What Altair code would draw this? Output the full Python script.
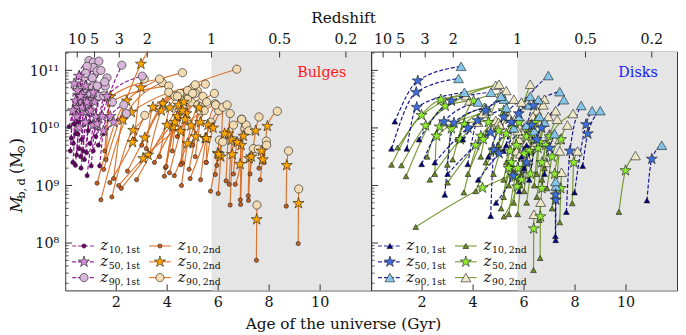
import altair as alt
import pandas as pd

FONT = "DejaVu Serif"
W, H = 310, 242
X_DOMAIN = [0, 12]
Y_DOMAIN = [10 ** 7.177, 10 ** 11.326]
AGE_TICKS = [2, 4, 6, 8, 10]
Z_AGES = [0.47, 1.15, 2.12, 3.22, 5.74, 8.41, 11.01]
Z_LABELS = ["10", "5", "3", "2", "1", "0.5", "0.2"]
Z1_AGE = 5.74
MASS_MAJOR = [1e8, 1e9, 1e10, 1e11]
MASS_LABELS = ["10\u2078", "10\u2079", "10\u00b9\u2070", "10\u00b9\u00b9"]

# five-pointed star marker (unit box)
STAR = ("M0,-1L0.2245,-0.309L0.9511,-0.309L0.3633,0.118L0.5878,0.809L0,0.382"
        "L-0.5878,0.809L-0.3633,0.118L-0.9511,-0.309L-0.2245,-0.309Z")

# ---- Bulges, 1st generation (age in Gyr, log10 mass) ----
b1_a10 = [0.86, 1.02, 1.35, 0.24, 0.41, 0.54, 0.45, 0.61, 0.84, 0.97, 0.32, 0.15, 0.35, 0.48, 0.70, 0.30, 0.62, 0.75, 1.10, 1.20, 0.50, 0.90, 0.20, 1.30, 0.95, 0.40, 0.65, 1.50]
b1_m10 = [9.17, 9.34, 9.34, 9.82, 9.90, 9.64, 9.53, 9.50, 9.57, 9.73, 9.73, 10.02, 10.07, 9.90, 9.60, 9.40, 9.30, 9.45, 9.60, 9.85, 10.10, 9.95, 9.60, 9.70, 10.10, 9.35, 9.80, 9.90]
b1_a50 = [1.10, 1.20, 1.50, 0.35, 0.54, 0.67, 0.62, 0.80, 0.93, 1.25, 0.48, 0.41, 0.48, 0.67, 0.90, 0.45, 0.80, 1.00, 1.45, 1.64, 0.60, 1.10, 0.30, 1.77, 1.15, 0.55, 0.85, 1.90]
b1_m50 = [10.05, 10.20, 9.95, 10.77, 10.90, 10.59, 10.45, 10.73, 10.27, 10.07, 10.65, 10.47, 10.36, 10.36, 10.40, 10.20, 10.10, 10.30, 10.20, 10.55, 10.55, 10.62, 10.30, 10.20, 10.45, 10.00, 10.45, 10.10]
b1_a90 = [1.32, 1.57, 1.85, 0.93, 1.10, 1.32, 1.10, 1.25, 1.06, 1.51, 0.73, 0.86, 0.73, 1.06, 1.64, 0.75, 1.00, 1.25, 2.22, 3.02, 0.80, 1.40, 0.55, 2.30, 1.55, 0.85, 1.00, 2.40]
b1_m90 = [10.55, 10.73, 10.45, 11.17, 11.14, 11.16, 11.05, 10.99, 10.87, 10.56, 10.87, 11.07, 10.53, 10.73, 10.87, 10.60, 10.45, 10.73, 11.09, 10.90, 10.95, 11.00, 10.65, 10.40, 10.80, 10.30, 10.60, 10.25]

# ---- Bulges, 2nd generation ----
b2_a10 = [1.25, 1.51, 1.40, 1.83, 1.90, 1.60, 1.55, 2.44, 2.20, 1.75, 2.10, 3.18, 3.00, 3.30, 2.70, 3.93, 4.09, 4.28, 4.56, 4.86, 4.90, 5.31, 3.96, 4.60, 3.89, 4.54, 5.53, 3.70, 4.20, 3.50, 5.10, 2.80, 5.89, 6.00, 4.40, 6.31, 6.43, 6.47, 6.67, 6.87, 6.88, 7.18, 7.19, 7.50, 8.67, 9.14, 7.25, 7.80, 7.60, 7.65, 5.95, 5.70, 6.60, 5.53, 5.00]
b2_m10 = [9.04, 9.28, 8.75, 8.80, 9.12, 9.45, 9.60, 9.25, 8.95, 9.05, 9.00, 9.64, 9.70, 9.55, 9.80, 9.31, 9.22, 9.17, 9.00, 9.28, 9.12, 9.10, 9.33, 9.39, 9.16, 9.36, 9.40, 9.50, 9.60, 9.40, 9.50, 9.10, 9.19, 8.86, 9.85, 9.08, 9.02, 8.66, 9.02, 8.75, 8.67, 8.82, 8.74, 7.70, 8.64, 7.99, 9.20, 9.40, 9.30, 9.10, 9.35, 8.90, 9.20, 9.40, 9.70]
b2_a50 = [2.41, 2.97, 2.60, 2.67, 2.26, 1.77, 1.77, 3.12, 3.25, 2.64, 3.06, 3.44, 3.83, 3.77, 2.97, 4.22, 4.53, 4.80, 4.93, 5.12, 5.49, 5.53, 4.40, 4.75, 4.30, 4.70, 5.60, 4.10, 4.45, 4.60, 5.30, 4.00, 5.98, 6.10, 4.65, 6.40, 6.53, 6.55, 6.86, 6.90, 6.99, 7.22, 7.30, 7.51, 8.69, 9.15, 7.47, 7.93, 7.70, 7.75, 6.25, 6.02, 6.75, 5.80, 5.25]
b2_m50 = [10.47, 11.11, 10.27, 9.96, 10.14, 10.54, 10.45, 9.83, 9.53, 9.75, 9.47, 10.36, 10.42, 10.30, 10.70, 10.02, 9.94, 9.73, 10.04, 9.85, 9.82, 9.82, 10.20, 10.25, 10.10, 10.15, 10.05, 10.35, 10.40, 10.30, 10.10, 10.05, 9.56, 9.50, 10.45, 9.90, 9.79, 9.54, 9.37, 9.70, 9.86, 9.47, 9.50, 8.41, 9.35, 8.69, 9.95, 10.03, 9.60, 9.45, 9.90, 9.54, 9.75, 10.00, 10.35]
b2_a90 = [4.60, 3.40, 5.50, 6.73, 3.80, 3.70, 4.06, 4.06, 5.18, 3.12, 5.88, 4.50, 5.00, 4.30, 3.10, 4.70, 4.95, 5.30, 5.20, 5.45, 5.70, 6.02, 4.80, 5.10, 4.60, 5.40, 5.90, 4.40, 4.80, 5.00, 5.55, 4.40, 6.05, 6.18, 5.10, 6.47, 6.60, 6.62, 6.92, 7.05, 7.10, 7.38, 7.57, 7.52, 8.76, 9.16, 7.60, 8.32, 7.89, 7.90, 6.92, 6.18, 7.20, 6.35, 5.85]
b2_m90 = [10.96, 11.45, 10.76, 11.02, 10.79, 10.85, 10.73, 10.62, 10.65, 10.22, 10.42, 10.60, 10.70, 10.55, 10.85, 10.50, 10.45, 10.30, 10.40, 10.30, 10.10, 10.30, 10.50, 10.60, 10.40, 10.55, 10.40, 10.55, 10.65, 10.60, 10.45, 10.35, 9.79, 10.36, 10.75, 10.25, 10.05, 9.78, 10.15, 9.99, 10.05, 9.64, 9.63, 8.66, 9.60, 8.94, 10.19, 10.29, 9.77, 9.70, 10.15, 9.76, 9.95, 10.40, 10.60]

# ---- Disks, 1st generation ----
d1_a10 = [0.93, 0.80, 1.40, 1.88, 1.98, 2.89, 3.79, 4.69, 3.00, 4.20, 4.60, 5.20, 4.90, 5.90, 6.00, 7.24, 7.23, 7.66, 7.98, 8.30, 10.82, 5.30, 3.60, 6.20, 6.10, 5.80, 2.50, 6.80]
d1_m10 = [10.11, 9.64, 9.64, 9.80, 9.37, 8.84, 9.37, 8.47, 9.20, 9.10, 9.50, 9.60, 8.70, 9.50, 9.30, 8.05, 8.12, 8.54, 8.88, 9.34, 8.74, 9.70, 9.80, 9.10, 9.70, 8.90, 9.40, 9.20]
d1_a50 = [1.83, 1.77, 1.79, 3.15, 2.86, 3.25, 4.18, 4.82, 4.69, 5.02, 5.21, 5.79, 5.57, 6.37, 6.69, 7.245, 7.235, 7.80, 8.43, 8.50, 11.01, 5.50, 4.50, 6.50, 6.30, 6.10, 3.80, 7.00]
d1_m50 = [10.82, 10.62, 10.36, 10.47, 10.11, 10.09, 10.13, 9.62, 9.92, 9.56, 10.19, 10.25, 9.17, 10.39, 10.00, 8.75, 8.84, 9.60, 10.06, 9.90, 9.46, 10.10, 10.30, 9.80, 10.05, 9.40, 10.00, 9.65]
d1_a90 = [3.53, 3.43, 3.66, 4.70, 4.20, 4.50, 5.21, 5.60, 5.80, 6.10, 6.24, 6.95, 6.56, 7.40, 7.56, 7.25, 7.24, 8.24, 8.67, 8.99, 11.40, 6.20, 5.10, 6.80, 6.60, 6.40, 5.30, 7.20]
d1_m90 = [11.07, 10.86, 10.62, 10.62, 10.45, 10.35, 10.50, 10.00, 10.20, 10.05, 10.55, 10.91, 10.49, 10.63, 10.49, 8.99, 9.07, 10.39, 10.30, 10.30, 9.70, 10.40, 10.55, 10.10, 10.20, 9.95, 10.35, 9.90]

# ---- Disks, 2nd generation ----
d2_a10 = [0.80, 1.19, 1.04, 1.37, 1.75, 2.99, 2.50, 2.20, 3.20, 3.40, 3.64, 5.21, 6.37, 6.63, 7.40, 7.89, 9.72, 5.20, 4.80, 5.40, 5.50, 5.90, 6.00, 6.20, 6.40, 6.50, 6.70, 6.90, 5.10, 5.30, 4.50, 6.10, 5.75, 7.10, 6.60, 4.10, 3.00, 2.30, 5.00, 5.60, 6.30, 7.30, 6.00, 4.30, 3.80, 5.85, 6.80, 5.40, 6.50, 5.20]
d2_m10 = [9.36, 9.35, 9.66, 9.16, 8.28, 9.36, 9.20, 9.50, 9.45, 9.80, 8.88, 8.46, 7.53, 7.74, 8.36, 8.69, 8.54, 8.80, 9.20, 9.00, 9.30, 9.20, 8.90, 9.40, 9.00, 8.80, 9.10, 8.95, 8.60, 9.40, 9.40, 8.70, 8.50, 8.60, 8.40, 8.90, 9.05, 9.10, 9.70, 8.70, 9.60, 9.20, 9.50, 9.50, 9.20, 9.00, 9.30, 8.50, 9.20, 9.10]
d2_a50 = [1.98, 2.14, 2.73, 2.91, 4.37, 3.15, 2.57, 2.69, 3.66, 4.02, 4.31, 5.73, 6.38, 6.64, 7.44, 7.95, 9.98, 5.50, 5.30, 5.70, 5.80, 6.10, 6.20, 6.30, 6.55, 6.70, 6.85, 7.10, 5.40, 5.55, 5.00, 6.25, 5.90, 7.20, 6.70, 4.80, 4.10, 3.50, 5.20, 5.75, 6.45, 7.45, 6.15, 4.60, 4.40, 6.00, 7.00, 5.65, 6.60, 5.45]
d2_m50 = [10.22, 10.04, 10.49, 10.38, 8.96, 9.99, 9.86, 10.02, 10.06, 10.47, 9.86, 8.98, 8.25, 8.46, 8.95, 9.40, 9.26, 9.40, 9.90, 9.70, 10.10, 9.85, 9.60, 9.90, 9.65, 9.40, 9.70, 9.50, 9.30, 10.00, 9.95, 9.20, 9.10, 9.20, 8.95, 9.60, 9.70, 9.80, 10.30, 9.30, 10.10, 9.80, 10.00, 10.10, 9.80, 9.55, 9.85, 9.15, 9.75, 9.60]
d2_a90 = [4.89, 5.02, 3.73, 3.86, 5.60, 4.44, 4.37, 4.89, 4.60, 5.10, 5.00, 6.00, 6.39, 6.65, 7.47, 8.10, 10.37, 5.80, 5.70, 6.00, 6.24, 6.50, 6.60, 6.80, 7.24, 7.00, 7.92, 7.40, 5.70, 5.90, 5.40, 6.40, 6.15, 7.40, 6.85, 5.50, 4.70, 4.20, 5.60, 5.95, 6.75, 7.70, 6.35, 5.30, 5.05, 6.10, 7.30, 5.85, 6.95, 5.75]
d2_m90 = [10.74, 10.76, 10.56, 10.47, 9.20, 10.36, 10.25, 10.13, 10.30, 10.60, 10.10, 9.50, 8.50, 8.71, 9.23, 9.60, 9.52, 9.80, 10.20, 10.00, 10.76, 10.30, 10.10, 10.50, 10.30, 9.90, 10.25, 9.80, 9.60, 10.45, 10.20, 9.70, 9.45, 9.60, 9.40, 10.00, 10.00, 10.10, 10.50, 9.90, 10.40, 10.05, 10.20, 10.65, 10.05, 9.75, 10.15, 9.55, 10.20, 9.95]

STYLE = {
    "b1": dict(line="#8b008b", dash=[4, 2], shape="circle",
               f10="#6e006e", f50="#d48ed4", f90="#d7b7d7", gen="1st"),
    "b2": dict(line="#d8691f", dash=None, shape="circle",
               f10="#cc5f1c", f50="#ffa500", f90="#f2dbb0", gen="2nd"),
    "d1": dict(line="#00008b", dash=[4, 2], shape="triangle-up",
               f10="#000080", f50="#3d6edb", f90="#84c4e6", gen="1st"),
    "d2": dict(line="#6b8e23", dash=None, shape="triangle-up",
               f10="#6b8e23", f50="#8fec30", f90="#eee8c8", gen="2nd"),
}

xs = alt.Scale(domain=X_DOMAIN, nice=False, zero=False)
ys = alt.Scale(type="log", domain=Y_DOMAIN, nice=False)
ONE = pd.DataFrame({"k": [0]})


def long_df(tag, a10, m10, a50, m50, a90, m90):
    rows = []
    for i in range(len(a10)):
        for step, a, m in ((10, a10[i], m10[i]), (50, a50[i], m50[i]), (90, a90[i], m90[i])):
            rows.append({"track": f"{tag}{i}", "step": step, "age": a, "mass": 10 ** m})
    return pd.DataFrame(rows)


DATA = {
    "b1": long_df("b1", b1_a10, b1_m10, b1_a50, b1_m50, b1_a90, b1_m90),
    "b2": long_df("b2", b2_a10, b2_m10, b2_a50, b2_m50, b2_a90, b2_m90),
    "d1": long_df("d1", d1_a10, d1_m10, d1_a50, d1_m50, d1_a90, d1_m90),
    "d2": long_df("d2", d2_a10, d2_m10, d2_a50, d2_m50, d2_a90, d2_m90),
}

ENC = dict(x=alt.X("age:Q", scale=xs, axis=None), y=alt.Y("mass:Q", scale=ys, axis=None))


def line_layer(pop):
    s = STYLE[pop]
    kw = dict(color=s["line"], strokeWidth=1.2, interpolate="monotone", clip=True, opacity=0.9)
    if s["dash"]:
        kw["strokeDash"] = s["dash"]
    return alt.Chart(DATA[pop]).mark_line(**kw).encode(detail="track:N", order="step:Q", **ENC)


def marker_props(pop, step):
    s = STYLE[pop]
    tri = s["shape"] == "triangle-up"
    if step == 10:
        return dict(shape=s["shape"], size=34 if tri else 18, fill=s["f10"])
    if step == 50:
        return dict(shape=STAR, size=140, fill=s["f50"])
    return dict(shape=s["shape"], size=100 if tri else 70, fill=s["f90"])


def point_layer(pop, step):
    p = marker_props(pop, step)
    d = DATA[pop]
    return alt.Chart(d[d["step"] == step]).mark_point(
        filled=True, shape=p["shape"], size=p["size"], fill=p["fill"], color=p["fill"],
        stroke="#1a1a1a", strokeWidth=0.6, opacity=1, clip=True).encode(**ENC)


def txt(x, y, s, size=14.5, color="#111", align="center", angle=0, italic=False):
    return alt.Chart(ONE).mark_text(
        text=s, font=FONT, fontSize=size, color=color, align=align, baseline="alphabetic",
        angle=angle, fontStyle="italic" if italic else "normal").encode(
        x=alt.value(x), y=alt.value(y))


def tick_layers(with_ylabels):
    minor = [k * 10 ** e for e in range(7, 12) for k in range(2, 10)
             if Y_DOMAIN[0] <= k * 10 ** e <= Y_DOMAIN[1]]
    mdf = pd.DataFrame({"tv": MASS_MAJOR, "lab": MASS_LABELS})
    adf = pd.DataFrame({"tx": AGE_TICKS, "lab": [str(a) for a in AGE_TICKS]})
    zdf = pd.DataFrame({"tx": Z_AGES, "lab": Z_LABELS})
    yv = alt.Y("tv:Q", scale=ys, axis=None)
    xv = alt.X("tx:Q", scale=xs, axis=None)
    out = [
        alt.Chart(mdf).mark_rule(color="#333", strokeWidth=1)
        .encode(y=yv, x=alt.value(0), x2=alt.value(7)),
        alt.Chart(pd.DataFrame({"tv": minor})).mark_rule(color="#333", strokeWidth=0.8)
        .encode(y=yv, x=alt.value(0), x2=alt.value(3.5)),
        alt.Chart(adf).mark_rule(color="#333", strokeWidth=1)
        .encode(x=xv, y=alt.value(H), y2=alt.value(H - 6)),
        alt.Chart(adf).mark_text(font=FONT, fontSize=14.5, color="#111", baseline="alphabetic")
        .encode(x=xv, y=alt.value(H + 16.5), text="lab:N"),
        alt.Chart(zdf).mark_rule(color="#333", strokeWidth=1)
        .encode(x=xv, y=alt.value(0), y2=alt.value(6)),
        alt.Chart(zdf).mark_text(font=FONT, fontSize=14.5, color="#111", baseline="alphabetic")
        .encode(x=xv, y=alt.value(-7.5), text="lab:N"),
    ]
    if with_ylabels:
        out.append(alt.Chart(mdf).mark_text(font=FONT, fontSize=14.5, color="#111",
                                            baseline="alphabetic", align="right", dx=-6, dy=5.5)
                   .encode(y=yv, x=alt.value(0), text="lab:N"))
    return out


def legend_layers(pop1, pop2):
    out = []
    rows = [(10, 197), (50, 213), (90, 229)]
    for pop, lx0, lx1, mx, tx in ((pop1, 7, 29, 19, 35.5), (pop2, 85, 107, 96, 114)):
        s = STYLE[pop]
        for step, ry in rows:
            rkw = dict(color=s["line"], strokeWidth=1.2, opacity=0.85)
            if s["dash"]:
                rkw["strokeDash"] = s["dash"]
            out.append(alt.Chart(ONE).mark_rule(**rkw).encode(
                x=alt.value(lx0), x2=alt.value(lx1), y=alt.value(ry)))
            p = marker_props(pop, step)
            out.append(alt.Chart(ONE).mark_point(
                filled=True, shape=p["shape"], size=p["size"], fill=p["fill"], color=p["fill"],
                stroke="#1a1a1a", strokeWidth=0.6, opacity=1).encode(x=alt.value(mx), y=alt.value(ry)))
            out.append(txt(tx, ry + 4.5, "z", size=15, align="left", italic=True))
            out.append(txt(tx + 8.5, ry + 7.5, f"{step},\u2009{s['gen']}", size=9.5, align="left"))
    return out


def shade_layer():
    return alt.Chart(pd.DataFrame({"x0": [Z1_AGE], "x1": [X_DOMAIN[1]]})).mark_rect(
        color="#e5e5e5").encode(x=alt.X("x0:Q", scale=xs, axis=None), x2="x1:Q",
                                y=alt.value(0), y2=alt.value(H))


def panel(pop1, pop2, with_ylabels, label, label_color, label_x, extra):
    layers = [shade_layer()]
    layers += [line_layer(pop2), line_layer(pop1)]
    for pop in (pop2, pop1):
        for step in (10, 90, 50):
            layers.append(point_layer(pop, step))
    layers += tick_layers(with_ylabels)
    layers += legend_layers(pop1, pop2)
    layers.append(txt(label_x, 25.5, label, size=14.5, color=label_color))
    layers += extra
    return alt.layer(*layers).properties(width=W, height=H)


left_extra = [
    txt(282, -29, "Redshift", size=15.5),
    txt(282, 281, "Age of the universe (Gyr)", size=15.5),
    txt(-44, 163, "M", size=16, align="left", angle=270, italic=True),
    txt(-40.5, 149, "b,\u2009d", size=11.5, align="left", angle=270),
    txt(-44, 124, "(M", size=16, align="left", angle=270),
    txt(-40.5, 104, "\u2299", size=11.5, align="left", angle=270),
    txt(-44, 94, ")", size=16, align="left", angle=270),
]

left = panel("b1", "b2", True, "Bulges", "#ff1a1a", 260, left_extra)
right = panel("d1", "d2", False, "Disks", "#1a1aff", 270.5, [])

chart = alt.hconcat(left, right, spacing=0, bounds="flush").configure_view(
    stroke="#333", strokeWidth=1).properties(
    padding={"left": 0, "top": 0, "right": 0, "bottom": 0}, background="white")

chart.save("out.html", embed_options={"renderer": "svg", "actions": False})
